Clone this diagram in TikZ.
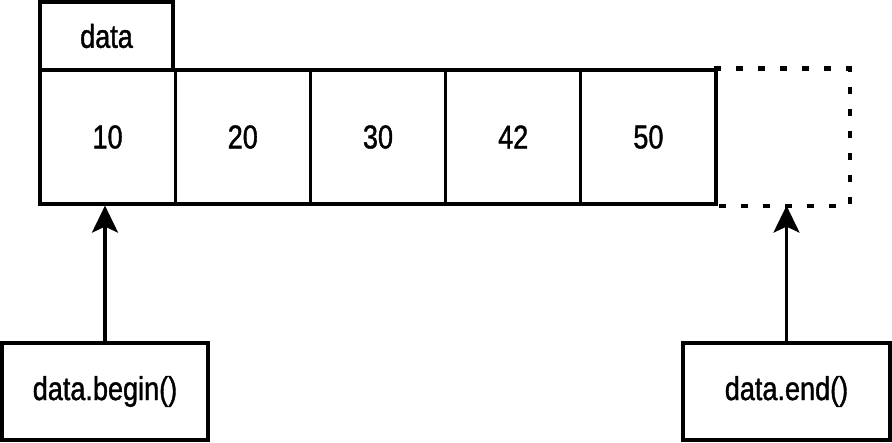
\documentclass[tikz,border=0pt]{standalone}
\usepackage{fontspec}
\setmainfont[FakeStretch=0.82,FakeBold=1.2]{Liberation Sans}
\usetikzlibrary{positioning,arrows.meta}

\tikzset{
  cell/.style={draw, line width=3.2pt, minimum width=135.2pt, minimum height=134pt,
    inner sep=0pt, font=\fontsize{33}{38}\selectfont},
  ghost/.style={cell, draw=none},
  label box/.style={draw, line width=3.2pt, inner sep=0pt,
    font=\fontsize{33}{38}\selectfont},
  pointer/.style={line width=3.2pt, -{Stealth[length=27pt,width=26pt,inset=6pt]}}
}

\begin{document}
\begin{tikzpicture}[x=1pt,y=-1pt]
    \useasboundingbox (0,0) rectangle (892,442);

    % header
    \node[label box, minimum width=133pt, minimum height=68pt] (head) at (106.5,36) {data};

    % cells
    \node[cell] (c1) at (107.6,137) {10};
    \node[cell] (c2) at (242.8,137) {20};
    \node[cell] (c3) at (378.0,137) {30};
    \node[cell] (c4) at (513.2,137) {42};
    \node[cell] (c5) at (648.4,137) {50};
    \node[ghost, minimum width=132pt] (c6) at (782,137) {};
    \draw[line width=4.2pt, dash pattern=on 7pt off 15pt]
      (c6.north west) -- (c6.north east) -- (c6.south east) -- (c6.south west);

    % iterators
    \node[label box, minimum width=206pt, minimum height=97pt] (begin) at (105,391.5) {data.begin()};
    \node[label box, minimum width=207pt, minimum height=97pt] (endp) at (786.5,391.5) {data.end()};

    \draw[pointer] (begin.north) -- (begin.north |- c1.south);
    \draw[pointer] (endp.north) -- (endp.north |- c6.south);
  \end{tikzpicture}
\end{document}
